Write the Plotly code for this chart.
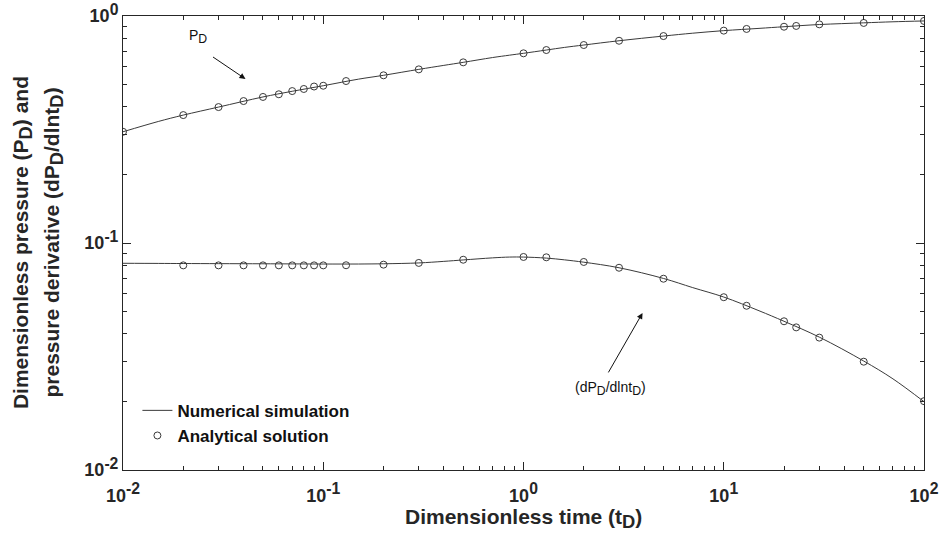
import numpy as np
import plotly.graph_objects as go

# Numerical simulation (continuous curves)
t_num = [0.01, 0.015, 0.02, 0.03, 0.05, 0.07, 0.1, 0.15, 0.2, 0.3, 0.4, 0.5,
         0.7, 0.85, 1.0, 1.3, 1.6, 2.0, 3.0, 5.0, 7.0, 10.0, 15.0, 20.0,
         30.0, 50.0, 70.0, 100.0]
pd_num = [0.309, 0.343, 0.366, 0.397, 0.440, 0.466, 0.493, 0.527, 0.548,
          0.582, 0.606, 0.625, 0.656, 0.672, 0.685, 0.708, 0.727, 0.745,
          0.778, 0.816, 0.840, 0.862, 0.882, 0.897, 0.917, 0.933, 0.943,
          0.951]
dpd_num = [0.0814, 0.0813, 0.0812, 0.0811, 0.0810, 0.0809, 0.0808, 0.0808,
           0.0810, 0.0817, 0.0830, 0.0842, 0.0860, 0.0867, 0.0867, 0.0858,
           0.0843, 0.0823, 0.0778, 0.0698, 0.0636, 0.0578, 0.0503, 0.0452,
           0.0385, 0.0302, 0.0252, 0.0200]

# Analytical solution (discrete points)
t_ana = [0.01, 0.02, 0.03, 0.04, 0.05, 0.06, 0.07, 0.08, 0.09, 0.1, 0.13,
         0.2, 0.3, 0.5, 1.0, 1.3, 2.0, 3.0, 5.0, 10.0, 13.0, 20.0, 23.0,
         30.0, 50.0, 100.0]
pd_ana = [0.309, 0.366, 0.397, 0.422, 0.440, 0.452, 0.467, 0.477, 0.489,
          0.493, 0.517, 0.548, 0.582, 0.625, 0.685, 0.708, 0.745, 0.778,
          0.816, 0.862, 0.877, 0.897, 0.904, 0.919, 0.932, 0.951]
dpd_ana = [None, 0.0797, 0.0797, 0.0797, 0.0797, 0.0797, 0.0797, 0.0797,
           0.0797, 0.0797, 0.0798, 0.0803, 0.0817, 0.0844, 0.0868, 0.0865,
           0.0825, 0.0778, 0.0696, 0.0577, 0.0529, 0.0452, 0.0425, 0.0383,
           0.0300, 0.0201]


def sup(s):
    return "<sup><span style='font-size:125%'>" + s + "</span></sup>"


def sub(s):
    return "<sub><span style='font-size:125%'>" + s + "</span></sub>"


major_vals = [0.01, 0.1, 1, 10, 100]
major_text = ["10" + sup("-2"), "10" + sup("-1"), "10" + sup("0"),
              "10" + sup("1"), "10" + sup("2")]
y_major_vals = [0.01, 0.1, 1]
y_major_text = ["10" + sup("-2"), "10" + sup("-1"), "10" + sup("0")]

FONT = "Liberation Sans, Arial, sans-serif"
INK = "#262626"
LINE = "#3a3a3a"

fig = go.Figure()

fig.add_trace(go.Scatter(x=t_num, y=pd_num, mode="lines", line_shape="spline",
                         line=dict(color=LINE, width=1),
                         name="Numerical simulation"))
fig.add_trace(go.Scatter(x=t_num, y=dpd_num, mode="lines", line_shape="spline",
                         line=dict(color=LINE, width=1), showlegend=False))
fig.add_trace(go.Scatter(x=t_ana, y=pd_ana, mode="markers",
                         marker=dict(symbol="circle-open", size=7,
                                     color=LINE, line=dict(width=1)),
                         name="Analytical solution"))
fig.add_trace(go.Scatter(x=t_ana, y=dpd_ana, mode="markers",
                         marker=dict(symbol="circle-open", size=7,
                                     color=LINE, line=dict(width=1)),
                         showlegend=False))


def minor_ticks(lo, hi):
    vals = []
    for e in range(lo, hi):
        for m in range(2, 10):
            vals.append(m * 10.0 ** e)
    return vals


axis_common = dict(
    type="log", ticks="inside", ticklen=8, tickwidth=1, tickcolor=INK,
    showline=True, linecolor=INK, linewidth=1, mirror="ticks",
    showgrid=False, zeroline=False, automargin=False,
    tickfont=dict(family=FONT, size=18, color=INK, weight="bold"),
)

fig.update_xaxes(
    **axis_common, range=[-2, 2], tickmode="array", tickvals=major_vals,
    ticktext=major_text, ticklabelstandoff=9,
    minor=dict(ticks="inside", ticklen=4, tickcolor=INK, tickmode="array",
               tickvals=minor_ticks(-2, 2)),
)
fig.update_yaxes(
    **axis_common, range=[-2, 0], tickmode="array", tickvals=y_major_vals,
    ticktext=y_major_text,
    minor=dict(ticks="inside", ticklen=4, tickcolor=INK, tickmode="array",
               tickvals=minor_ticks(-2, 0)),
)

# Axis titles
title_font = dict(family=FONT, size=21, color=INK, weight="bold")
fig.add_annotation(xref="paper", yref="paper", x=0.5, y=-0.107,
                   text="Dimensionless time (t" + sub("D") + ")",
                   showarrow=False, font=title_font,
                   xanchor="center", yanchor="middle")
fig.add_annotation(xref="paper", yref="paper", x=-0.126, y=0.5,
                   text="Dimensionless pressure (P" + sub("D") + ") and",
                   textangle=-90, showarrow=False, font=title_font,
                   xanchor="center", yanchor="middle")
fig.add_annotation(xref="paper", yref="paper", x=-0.088, y=0.5,
                   text="pressure derivative (dP" + sub("D") + "/dlnt"
                        + sub("D") + ")",
                   textangle=-90, showarrow=False, font=title_font,
                   xanchor="center", yanchor="middle")

label_font = dict(family=FONT, size=14, color="#111111")

# P_D label and arrow
fig.add_annotation(x=np.log10(0.0237), y=np.log10(0.81), xref="x", yref="y",
                   text="P" + sub("D"), showarrow=False, font=label_font)
fig.add_annotation(x=np.log10(0.0409), y=-0.2775, xref="x", yref="y",
                   text="", showarrow=True, ax=-34, ay=-23,
                   arrowhead=2, arrowsize=1.2, arrowwidth=1, arrowcolor="#111111")

# derivative label and arrow
fig.add_annotation(x=np.log10(2.72), y=-1.640, xref="x", yref="y",
                   text="(dP" + sub("D") + "/dlnt" + sub("D") + ")",
                   showarrow=False, font=label_font)
fig.add_annotation(x=np.log10(3.93), y=-1.308, xref="x", yref="y",
                   text="", showarrow=True, ax=-35, ay=61,
                   arrowhead=2, arrowsize=1.2, arrowwidth=1, arrowcolor="#111111")

fig.update_layout(
    width=946, height=537,
    margin=dict(l=123, r=22, t=16, b=67),
    paper_bgcolor="white", plot_bgcolor="white",
    showlegend=True,
    legend=dict(x=0.018, y=0.17, xanchor="left", yanchor="top",
                bgcolor="rgba(0,0,0,0)", borderwidth=0,
                font=dict(family=FONT, size=17, color="#111111", weight="bold"),
                itemwidth=30, tracegroupgap=0),
)

fig.write_html("out.html")
